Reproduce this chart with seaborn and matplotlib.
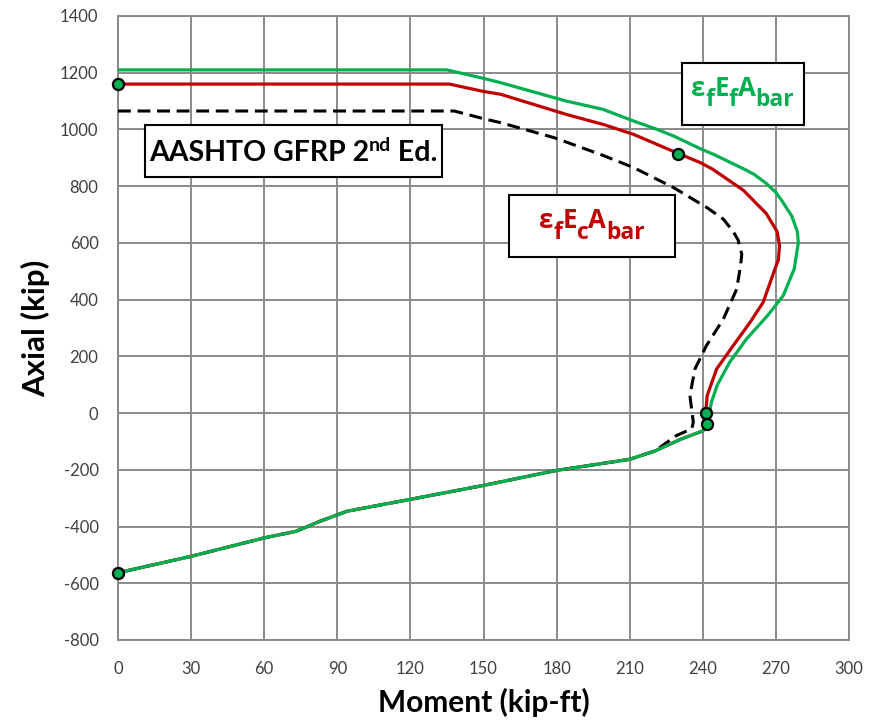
import matplotlib
matplotlib.use("Agg")
import matplotlib.pyplot as plt
import seaborn as sns
import pandas as pd
from matplotlib.offsetbox import TextArea, HPacker, VPacker, DrawingArea, AnnotationBbox

# ---------------- data (moment kip-ft, axial kip) ----------------
lower_M = [240.0, 231.0, 220.5, 210.0, 180.0, 150.0, 120.0, 94.0, 83.0, 73.0, 60.0, 30.0, 0.0]
lower_P = [-63, -92, -133, -163, -202, -255, -304, -346, -381, -417, -440, -505, -563]

green_M = [0, 135, 150, 157, 184, 199, 211.5, 221, 228, 239, 245, 257, 261, 266, 270,
           272.5, 276.5, 278.8, 279.2, 277.5, 273, 266.5, 258, 251, 246, 243.6, 242.4, 241.6] + lower_M
green_P = [1210, 1210, 1180, 1165, 1100, 1071, 1030, 1001, 977, 932, 910, 860, 842, 810, 778,
           748, 695, 640, 600, 508, 414, 343, 262, 179, 100, 40, -10, -40] + lower_P

red_M = [0, 136, 150, 157, 184, 199, 211.5, 230, 239, 244, 256.6, 266, 270.5, 271.5, 271,
         269.6, 264.8, 259.4, 252.5, 245.7, 241.8, 241.2, 241.6] + lower_M
red_P = [1160, 1160, 1134, 1124, 1053, 1018, 983, 915, 883, 860, 786, 704, 640, 590, 540,
         508, 391, 320, 238, 156, 62, 0, -40] + lower_P

dash_M = [0, 138, 150, 157, 179, 198, 211.5, 228, 241.6, 248.4, 252.5, 254.5, 256, 255.5,
          253.9, 248.4, 241.5, 236.8, 234.7, 236.1, 235.5, 229] + lower_M[2:]
dash_P = [1065, 1065, 1038, 1024, 971, 912, 866, 795, 725, 684, 640, 610, 560, 520,
          437, 331, 238, 156, 62, -32, -55, -80] + lower_P[2:]

pts_M = [0, 230, 241.2, 241.6, 0]
pts_P = [1160, 915, 0, -40, -563]

x_ticks = [0, 30, 60, 90, 120, 150, 180, 210, 240, 270, 300]
y_ticks = [-800, -600, -400, -200, 0, 200, 400, 600, 800, 1000, 1200, 1400]

GREEN = "#00B050"
RED = "#C00000"

# ---------------- style ----------------
sns.set_theme(style="white")
plt.rcParams["font.family"] = ["Lato", "Open Sans", "DejaVu Sans"]
plt.rcParams["axes.unicode_minus"] = False

fig = plt.figure(figsize=(8.79, 7.23), dpi=100)
ax = fig.add_axes([118 / 879, 83 / 723, 731 / 879, 624 / 723])

df_dash = pd.DataFrame({"M": dash_M, "P": dash_P})
df_red = pd.DataFrame({"M": red_M, "P": red_P})
df_green = pd.DataFrame({"M": green_M, "P": green_P})

sns.lineplot(data=df_dash, x="M", y="P", sort=False, estimator=None, ax=ax,
             color="black", linewidth=2.2, linestyle=(0, (4.2, 2.2)), zorder=3)
sns.lineplot(data=df_red, x="M", y="P", sort=False, estimator=None, ax=ax,
             color=RED, linewidth=2.3, zorder=4)
sns.lineplot(data=df_green, x="M", y="P", sort=False, estimator=None, ax=ax,
             color=GREEN, linewidth=2.3, zorder=5)
ax.plot(pts_M, pts_P, linestyle="none", marker="o", markersize=8,
        markerfacecolor=GREEN, markeredgecolor="black", markeredgewidth=1.6, zorder=6,
        clip_on=False)

ax.set_xlim(0, 300)
ax.set_ylim(-800, 1400)
ax.set_xticks(x_ticks)
ax.set_yticks(y_ticks)
ax.grid(True, color="#8a8a8a", linewidth=1.4)
ax.set_axisbelow(True)
for s in ax.spines.values():
    s.set_color("#8a8a8a")
    s.set_linewidth(1.4)
ax.tick_params(axis="both", length=0, labelsize=12, colors="#404040")
ax.tick_params(axis="y", pad=14)
ax.tick_params(axis="x", pad=15)

ax.set_xlabel("Moment (kip-ft)", fontsize=21.5, fontweight="bold", color="black", labelpad=8)
ax.set_ylabel("Axial (kip)", fontsize=22.5, fontweight="bold", color="black", labelpad=7)

# ---------------- text boxes ----------------
def boxed(children, xy, pad, vtop, vbot):
    hp = HPacker(children=children, align="bottom", pad=0, sep=0)
    vp = VPacker(children=[DrawingArea(1, vtop), hp, DrawingArea(1, vbot)],
                 align="left", pad=0, sep=0)
    ab = AnnotationBbox(vp, xy, xycoords="data", frameon=True, pad=pad, fontsize=10,
                        box_alignment=(0.5, 0.5), zorder=7,
                        bboxprops=dict(boxstyle="square", facecolor="white",
                                       edgecolor="black", linewidth=1.5))
    ax.add_artist(ab)


def raised(text, props, lift):
    return VPacker(children=[TextArea(text, textprops=props), DrawingArea(1, lift)],
                   align="left", pad=0, sep=0)


# AASHTO GFRP 2nd Ed.
main_p = dict(size=20.5, weight="bold", color="black")
sup_p = dict(size=14, weight="bold", color="black")
boxed([TextArea("AASHTO GFRP 2", textprops=main_p),
       raised("nd", sup_p, 9),
       TextArea(" Ed.", textprops=main_p)], (72, 923), 0.88, 5, 5)


def eps_label(sub2, color, xy, side):
    fam = ["Open Sans", "DejaVu Sans"]
    mp = dict(size=18.5, weight="bold", color=color, family=fam)
    sp = dict(size=16.5, weight="bold", color=color, family=fam)
    lift = 7.5
    kids = [DrawingArea(side, 1),
            raised("ε", mp, lift), TextArea("f", textprops=sp),
            raised("E", mp, lift), TextArea(sub2, textprops=sp),
            raised("A", mp, lift), TextArea("bar", textprops=sp),
            DrawingArea(side, 1)]
    boxed(kids, xy, 0.9, 6, 6)


eps_label("c", RED, (194.5, 659), 19)
eps_label("f", GREEN, (256.4, 1126), 4)

fig.savefig("out.png", dpi=100)
